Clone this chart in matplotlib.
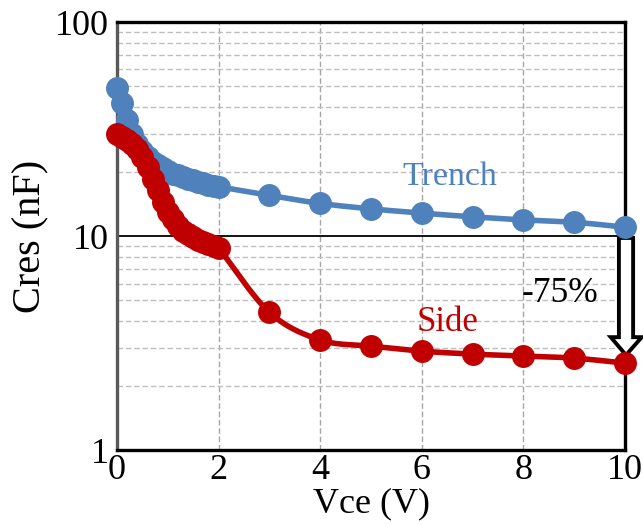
#!/usr/bin/env python3
"""
Cres vs Vce for the Trench and Side devices (log y axis, smoothed lines).
"""

import numpy as np
import matplotlib
matplotlib.use("Agg")
import matplotlib.pyplot as plt
from matplotlib.patches import Polygon

# Vce sweep (V): dense 0..2 V, then 1 V steps
vce = [0.0, 0.1, 0.2, 0.3, 0.4, 0.5, 0.6, 0.7, 0.8, 0.9, 1.0,
       1.1, 1.2, 1.3, 1.4, 1.5, 1.6, 1.7, 1.8, 1.9, 2.0,
       3, 4, 5, 6, 7, 8, 9, 10]

# Cres (nF)
trench = [49, 42, 35, 30, 27, 25, 23.5, 22.3, 21.4, 20.7, 20.1,
          19.6, 19.2, 18.8, 18.5, 18.2, 17.9, 17.7, 17.4, 17.2, 17.0,
          15.5, 14.2, 13.4, 12.8, 12.3, 11.9, 11.6, 11.0]
side = [30, 29, 28, 27, 25.5, 23.5, 21, 18.5, 16.5, 14.5, 13,
        12, 11.2, 10.6, 10.2, 9.9, 9.6, 9.4, 9.2, 9.0, 8.8,
        4.4, 3.27, 3.06, 2.9, 2.81, 2.75, 2.69, 2.55]

x_ticks = [0, 2, 4, 6, 8, 10]
y_ticks = [1, 10, 100]

BLUE = "#4F81BD"
RED = "#C00000"


def smooth(x, y, n=24):
    """Catmull-Rom curve through the points, in (x, log y) space like Excel."""
    px = np.asarray(x, float)
    py = np.log10(np.asarray(y, float))
    px = np.concatenate([[px[0]], px, [px[-1]]])
    py = np.concatenate([[py[0]], py, [py[-1]]])
    t = np.linspace(0, 1, n)
    xs, ys = [], []
    for i in range(1, len(px) - 2):
        for arr, out in ((px, xs), (py, ys)):
            p0, p1, p2, p3 = arr[i - 1], arr[i], arr[i + 1], arr[i + 2]
            out.append(0.5 * (2 * p1 + (-p0 + p2) * t
                              + (2 * p0 - 5 * p1 + 4 * p2 - p3) * t ** 2
                              + (-p0 + 3 * p1 - 3 * p2 + p3) * t ** 3))
    return np.concatenate(xs), 10 ** np.concatenate(ys)


plt.rcParams["font.family"] = ["Liberation Serif", "DejaVu Serif"]

fig = plt.figure(figsize=(6.43, 5.24), dpi=100)
ax = fig.add_axes([0.182, 0.141, 0.79, 0.817])

ax.set_yscale("log")
ax.set_xlim(0, 10)
ax.set_ylim(1, 100)

# grid: dashed gray minor horizontals, dashed gray verticals, solid line at 10
ax.set_yticks([v * d for d in (1, 10) for v in range(2, 10)], minor=True)
ax.grid(True, which="minor", axis="y", color="#BFBFBF", linestyle=(0, (4, 2)), linewidth=1.0)
for xv in [2, 4, 6, 8]:
    ax.axvline(xv, color="#A6A6A6", linestyle=(0, (4, 2)), linewidth=1.0, zorder=0.5)
ax.axhline(10, color="black", linewidth=1.3, zorder=0.6)

# curves
for data, col in ((trench, BLUE), (side, RED)):
    sx, sy = smooth(vce, data)
    ax.plot(sx, sy, color=col, linewidth=4.0, zorder=3, clip_on=False)
    ax.plot(vce, data, linestyle="none", marker="o", markersize=15.5,
            color=col, zorder=4, clip_on=False)

# hollow arrow from Trench to Side at 10 V
arrow = Polygon([(9.88, 9.8), (10.16, 9.8), (10.16, 3.37), (10.33, 3.37),
                 (10.02, 2.78), (9.72, 3.37), (9.88, 3.37)],
                closed=True, facecolor="white", edgecolor="black",
                linewidth=2.8, zorder=3.5, clip_on=False)
ax.add_patch(arrow)

ax.text(6.56, 18.9, "Trench", color=BLUE, fontsize=24.5, ha="center", va="center")
ax.text(6.5, 3.96, "Side", color=RED, fontsize=25, ha="center", va="center")
ax.text(8.72, 5.42, "-75%", color="black", fontsize=25.5, ha="center", va="center")

ax.set_xticks(x_ticks)
ax.set_xticklabels([str(v) for v in x_ticks])
ax.set_yticks(y_ticks)
ax.set_yticklabels([str(v) for v in y_ticks])
ax.tick_params(axis="both", which="both", length=0, labelsize=26)
ax.tick_params(axis="x", pad=3)
ax.tick_params(axis="y", pad=6)
ax.tick_params(axis="y", which="minor", left=False)

ax.set_xlabel("Vce (V)", fontsize=26, labelpad=0)
ax.set_ylabel("Cres (nF)", fontsize=29, labelpad=4)

for side_name in ("top", "right", "bottom"):
    ax.spines[side_name].set_linewidth(2.4)
    ax.spines[side_name].set_color("black")
ax.spines["left"].set_linewidth(2.4)
ax.spines["left"].set_color("#595959")

fig.savefig("out.png", dpi=100)
